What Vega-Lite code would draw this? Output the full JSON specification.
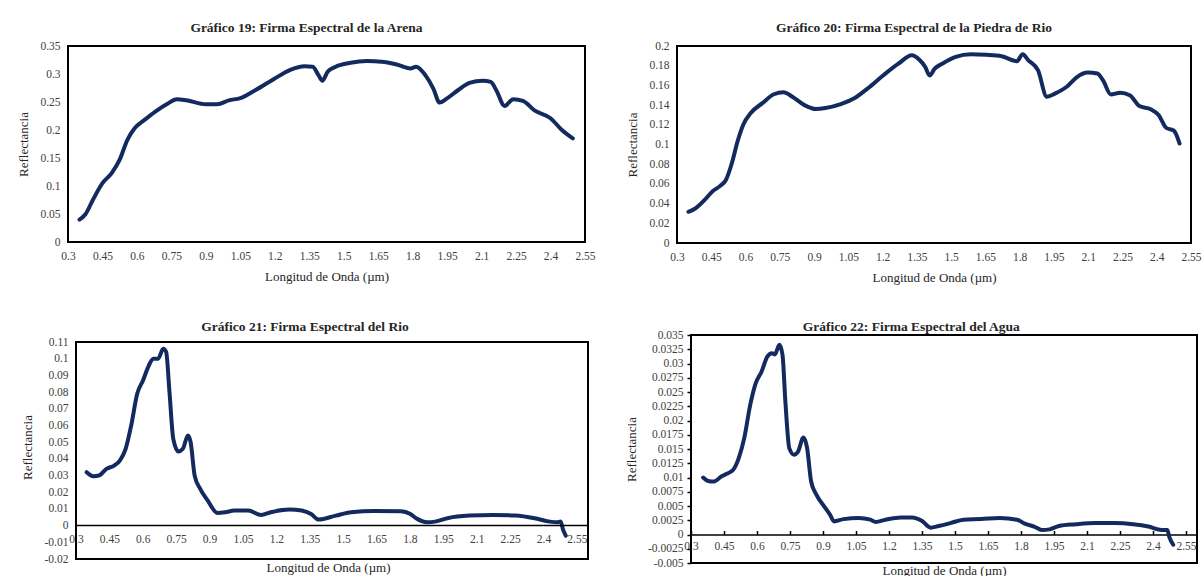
{
  "$schema": "https://vega.github.io/schema/vega-lite/v6.json",
  "background": "white",
  "padding": {"left": 16, "top": 19, "right": 0, "bottom": 0},
  "config": {
    "view": {"stroke": "#000000", "strokeWidth": 2},
    "title": {"font": "Liberation Serif", "fontSize": 13.5, "fontWeight": "bold", "color": "#262626", "offset": 6, "anchor": "middle", "frame": "bounds"},
    "axis": {
      "labelFont": "Liberation Serif", "labelFontSize": 11.5, "labelColor": "#404040",
      "titleFont": "Liberation Serif", "titleFontSize": 13, "titleFontWeight": "normal", "titleColor": "#262626",
      "grid": false, "ticks": false, "domain": false, "labelPadding": 8, "titlePadding": 9,
      "labelFlush": false, "labelOverlap": false,
      "labelExpr": "replace(format(datum.value, '~g'), '\u2212', '-')"
    },
    "line": {"interpolate": "monotone", "strokeWidth": 4, "color": "#132a5e", "strokeCap": "round", "strokeJoin": "round"}
  },
  "datasets": {
    "arena": [
      {"w": 0.35, "r": 0.04}, {"w": 0.375, "r": 0.049}, {"w": 0.408, "r": 0.075}, {"w": 0.45, "r": 0.105},
      {"w": 0.49, "r": 0.123}, {"w": 0.525, "r": 0.147}, {"w": 0.558, "r": 0.182}, {"w": 0.59, "r": 0.203},
      {"w": 0.633, "r": 0.218}, {"w": 0.68, "r": 0.233}, {"w": 0.733, "r": 0.247}, {"w": 0.774, "r": 0.255},
      {"w": 0.816, "r": 0.253}, {"w": 0.9, "r": 0.246}, {"w": 0.95, "r": 0.246}, {"w": 1.0, "r": 0.253},
      {"w": 1.05, "r": 0.257}, {"w": 1.115, "r": 0.271}, {"w": 1.2, "r": 0.292}, {"w": 1.265, "r": 0.307},
      {"w": 1.33, "r": 0.314}, {"w": 1.365, "r": 0.313}, {"w": 1.39, "r": 0.298}, {"w": 1.407, "r": 0.288},
      {"w": 1.43, "r": 0.304}, {"w": 1.465, "r": 0.313}, {"w": 1.53, "r": 0.32}, {"w": 1.6, "r": 0.323},
      {"w": 1.665, "r": 0.322}, {"w": 1.73, "r": 0.317}, {"w": 1.79, "r": 0.31}, {"w": 1.815, "r": 0.313},
      {"w": 1.855, "r": 0.298}, {"w": 1.89, "r": 0.274}, {"w": 1.917, "r": 0.249}, {"w": 1.948, "r": 0.256},
      {"w": 1.997, "r": 0.271}, {"w": 2.047, "r": 0.284}, {"w": 2.105, "r": 0.288}, {"w": 2.14, "r": 0.286},
      {"w": 2.164, "r": 0.271}, {"w": 2.2, "r": 0.243}, {"w": 2.238, "r": 0.255}, {"w": 2.28, "r": 0.252},
      {"w": 2.33, "r": 0.235}, {"w": 2.4, "r": 0.221}, {"w": 2.447, "r": 0.201}, {"w": 2.497, "r": 0.185}
    ],
    "piedra": [
      {"w": 0.35, "r": 0.0317}, {"w": 0.38, "r": 0.035}, {"w": 0.422, "r": 0.044}, {"w": 0.456, "r": 0.0525},
      {"w": 0.489, "r": 0.058}, {"w": 0.514, "r": 0.064}, {"w": 0.54, "r": 0.081}, {"w": 0.565, "r": 0.103},
      {"w": 0.59, "r": 0.12}, {"w": 0.623, "r": 0.132}, {"w": 0.674, "r": 0.142}, {"w": 0.724, "r": 0.151},
      {"w": 0.766, "r": 0.153}, {"w": 0.808, "r": 0.148}, {"w": 0.858, "r": 0.14}, {"w": 0.908, "r": 0.136},
      {"w": 0.95, "r": 0.137}, {"w": 1.017, "r": 0.141}, {"w": 1.076, "r": 0.147}, {"w": 1.135, "r": 0.157},
      {"w": 1.202, "r": 0.17}, {"w": 1.269, "r": 0.182}, {"w": 1.328, "r": 0.1906}, {"w": 1.361, "r": 0.186},
      {"w": 1.386, "r": 0.179}, {"w": 1.406, "r": 0.17}, {"w": 1.428, "r": 0.177}, {"w": 1.461, "r": 0.182},
      {"w": 1.52, "r": 0.189}, {"w": 1.587, "r": 0.1916}, {"w": 1.654, "r": 0.191}, {"w": 1.721, "r": 0.1896},
      {"w": 1.788, "r": 0.1845}, {"w": 1.813, "r": 0.1916}, {"w": 1.838, "r": 0.1855}, {"w": 1.88, "r": 0.1754},
      {"w": 1.919, "r": 0.1485}, {"w": 1.956, "r": 0.1519}, {"w": 2.006, "r": 0.1586}, {"w": 2.048, "r": 0.168},
      {"w": 2.098, "r": 0.173}, {"w": 2.14, "r": 0.172}, {"w": 2.165, "r": 0.165}, {"w": 2.199, "r": 0.1508},
      {"w": 2.24, "r": 0.1525}, {"w": 2.282, "r": 0.15}, {"w": 2.324, "r": 0.139}, {"w": 2.374, "r": 0.1357},
      {"w": 2.408, "r": 0.13}, {"w": 2.441, "r": 0.117}, {"w": 2.475, "r": 0.114}, {"w": 2.5, "r": 0.101}
    ],
    "rio": [
      {"w": 0.348, "r": 0.032}, {"w": 0.378, "r": 0.0296}, {"w": 0.403, "r": 0.03}, {"w": 0.437, "r": 0.034},
      {"w": 0.472, "r": 0.036}, {"w": 0.497, "r": 0.039}, {"w": 0.523, "r": 0.046}, {"w": 0.548, "r": 0.06},
      {"w": 0.575, "r": 0.079}, {"w": 0.601, "r": 0.087}, {"w": 0.626, "r": 0.0956}, {"w": 0.647, "r": 0.1},
      {"w": 0.669, "r": 0.1}, {"w": 0.692, "r": 0.106}, {"w": 0.705, "r": 0.104}, {"w": 0.72, "r": 0.08},
      {"w": 0.737, "r": 0.052}, {"w": 0.76, "r": 0.0444}, {"w": 0.78, "r": 0.046}, {"w": 0.803, "r": 0.054},
      {"w": 0.815, "r": 0.05}, {"w": 0.833, "r": 0.03}, {"w": 0.858, "r": 0.022}, {"w": 0.892, "r": 0.015},
      {"w": 0.935, "r": 0.0076}, {"w": 0.97, "r": 0.008}, {"w": 1.012, "r": 0.009}, {"w": 1.073, "r": 0.009},
      {"w": 1.132, "r": 0.0064}, {"w": 1.175, "r": 0.008}, {"w": 1.261, "r": 0.0096}, {"w": 1.313, "r": 0.009},
      {"w": 1.356, "r": 0.007}, {"w": 1.39, "r": 0.0036}, {"w": 1.467, "r": 0.006}, {"w": 1.536, "r": 0.008},
      {"w": 1.639, "r": 0.0088}, {"w": 1.759, "r": 0.0086}, {"w": 1.802, "r": 0.007}, {"w": 1.828, "r": 0.0044},
      {"w": 1.879, "r": 0.002}, {"w": 1.913, "r": 0.0024}, {"w": 1.973, "r": 0.0046}, {"w": 2.068, "r": 0.006},
      {"w": 2.171, "r": 0.0064}, {"w": 2.273, "r": 0.006}, {"w": 2.36, "r": 0.0044}, {"w": 2.428, "r": 0.0024},
      {"w": 2.463, "r": 0.002}, {"w": 2.477, "r": 0.0024}, {"w": 2.488, "r": -0.0024}, {"w": 2.5, "r": -0.006}
    ],
    "agua": [
      {"w": 0.355, "r": 0.01}, {"w": 0.378, "r": 0.0094}, {"w": 0.404, "r": 0.0093}, {"w": 0.439, "r": 0.0102},
      {"w": 0.465, "r": 0.0107}, {"w": 0.491, "r": 0.0113}, {"w": 0.517, "r": 0.0134}, {"w": 0.542, "r": 0.0169},
      {"w": 0.569, "r": 0.0227}, {"w": 0.594, "r": 0.0265}, {"w": 0.621, "r": 0.0286}, {"w": 0.647, "r": 0.0312},
      {"w": 0.668, "r": 0.0318}, {"w": 0.681, "r": 0.0316}, {"w": 0.702, "r": 0.0333}, {"w": 0.716, "r": 0.0315},
      {"w": 0.729, "r": 0.0233}, {"w": 0.747, "r": 0.0151}, {"w": 0.768, "r": 0.014}, {"w": 0.786, "r": 0.0145},
      {"w": 0.811, "r": 0.017}, {"w": 0.828, "r": 0.0151}, {"w": 0.846, "r": 0.0093}, {"w": 0.871, "r": 0.0069},
      {"w": 0.906, "r": 0.0049}, {"w": 0.933, "r": 0.0034}, {"w": 0.95, "r": 0.0023}, {"w": 0.993, "r": 0.0027},
      {"w": 1.063, "r": 0.0029}, {"w": 1.115, "r": 0.0026}, {"w": 1.14, "r": 0.0022}, {"w": 1.184, "r": 0.0026},
      {"w": 1.254, "r": 0.003}, {"w": 1.305, "r": 0.003}, {"w": 1.349, "r": 0.0024}, {"w": 1.389, "r": 0.0012},
      {"w": 1.426, "r": 0.0015}, {"w": 1.479, "r": 0.002}, {"w": 1.539, "r": 0.0026}, {"w": 1.618, "r": 0.0027},
      {"w": 1.703, "r": 0.0029}, {"w": 1.782, "r": 0.0026}, {"w": 1.817, "r": 0.0019}, {"w": 1.86, "r": 0.0014},
      {"w": 1.895, "r": 0.0008}, {"w": 1.929, "r": 0.0009}, {"w": 1.972, "r": 0.0015}, {"w": 2.05, "r": 0.0018},
      {"w": 2.137, "r": 0.002}, {"w": 2.224, "r": 0.002}, {"w": 2.31, "r": 0.0018}, {"w": 2.379, "r": 0.0014},
      {"w": 2.439, "r": 0.0008}, {"w": 2.465, "r": 0.0008}, {"w": 2.474, "r": -0.0004}, {"w": 2.492, "r": -0.0018}
    ]
  },
  "spacing": 32,
  "vconcat": [
    {
      "spacing": 28,
      "hconcat": [
        {
          "width": 517, "height": 196,
          "title": {"text": "Gráfico 19: Firma Espectral de la Arena"},
          "data": {"name": "arena"},
          "mark": {"type": "line"},
          "encoding": {
            "x": {"field": "w", "type": "quantitative", "scale": {"domain": [0.3, 2.55], "nice": false, "zero": false},
                  "axis": {"title": "Longitud de Onda (µm)", "values": [0.3, 0.45, 0.6, 0.75, 0.9, 1.05, 1.2, 1.35, 1.5, 1.65, 1.8, 1.95, 2.1, 2.25, 2.4, 2.55]}},
            "y": {"field": "r", "type": "quantitative", "scale": {"domain": [0, 0.35], "nice": false},
                  "axis": {"title": "Reflectancia", "values": [0, 0.05, 0.1, 0.15, 0.2, 0.25, 0.3, 0.35]}}
          }
        },
        {
          "width": 514, "height": 197,
          "title": {"text": "Gráfico 20: Firma Espectral de la Piedra de Rio"},
          "data": {"name": "piedra"},
          "mark": {"type": "line"},
          "encoding": {
            "x": {"field": "w", "type": "quantitative", "scale": {"domain": [0.3, 2.55], "nice": false, "zero": false},
                  "axis": {"title": "Longitud de Onda (µm)", "values": [0.3, 0.45, 0.6, 0.75, 0.9, 1.05, 1.2, 1.35, 1.5, 1.65, 1.8, 1.95, 2.1, 2.25, 2.4, 2.55]}},
            "y": {"field": "r", "type": "quantitative", "scale": {"domain": [0, 0.2], "nice": false},
                  "axis": {"title": "Reflectancia", "values": [0, 0.02, 0.04, 0.06, 0.08, 0.1, 0.12, 0.14, 0.16, 0.18, 0.2]}}
          }
        }
      ]
    },
    {
      "spacing": 35,
      "hconcat": [
        {
          "width": 520, "height": 224,
          "view": {"stroke": null},
          "title": {"text": "Gráfico 21: Firma Espectral del Rio", "offset": 2},
          "layer": [
            {
              "data": {"name": "rio"},
              "mark": {"type": "line"},
              "encoding": {
                "x": {"field": "w", "type": "quantitative", "scale": {"domain": [0.2641, 2.6], "nice": false, "zero": false},
                      "axis": {"title": "Longitud de Onda (µm)", "offset": -33.4, "titlePadding": 16,
                               "values": [0.3, 0.45, 0.6, 0.75, 0.9, 1.05, 1.2, 1.35, 1.5, 1.65, 1.8, 1.95, 2.1, 2.25, 2.4, 2.55]}},
                "y": {"field": "r", "type": "quantitative", "scale": {"domain": [-0.02, 0.1142], "nice": false},
                      "axis": {"title": "Reflectancia", "offset": -8, "titlePadding": 10, "values": [-0.02, -0.01, 0, 0.01, 0.02, 0.03, 0.04, 0.05, 0.06, 0.07, 0.08, 0.09, 0.1, 0.11]}}
              }
            },
            {
              "data": {"values": [{}]},
              "mark": {"type": "rect", "filled": false, "stroke": "#000000", "strokeWidth": 2},
              "encoding": {
                "x": {"datum": 0.3, "type": "quantitative",
                      "axis": {"title": "Longitud de Onda (µm)", "offset": -33.4, "titlePadding": 16,
                               "values": [0.3, 0.45, 0.6, 0.75, 0.9, 1.05, 1.2, 1.35, 1.5, 1.65, 1.8, 1.95, 2.1, 2.25, 2.4, 2.55]}},
                "x2": {"datum": 2.6},
                "y": {"datum": -0.02, "type": "quantitative",
                      "axis": {"title": "Reflectancia", "offset": -8, "titlePadding": 10, "values": [-0.02, -0.01, 0, 0.01, 0.02, 0.03, 0.04, 0.05, 0.06, 0.07, 0.08, 0.09, 0.1, 0.11]}},
                "y2": {"datum": 0.11}
              }
            },
            {
              "data": {"values": [{}]},
              "mark": {"type": "rule", "color": "#000000", "strokeWidth": 1.5},
              "encoding": {
                "x": {"datum": 0.3, "type": "quantitative",
                      "axis": {"title": "Longitud de Onda (µm)", "offset": -33.4, "titlePadding": 16,
                               "values": [0.3, 0.45, 0.6, 0.75, 0.9, 1.05, 1.2, 1.35, 1.5, 1.65, 1.8, 1.95, 2.1, 2.25, 2.4, 2.55]}},
                "x2": {"datum": 2.6},
                "y": {"datum": 0, "type": "quantitative",
                      "axis": {"title": "Reflectancia", "offset": -8, "titlePadding": 10, "values": [-0.02, -0.01, 0, 0.01, 0.02, 0.03, 0.04, 0.05, 0.06, 0.07, 0.08, 0.09, 0.1, 0.11]}}
              }
            }
          ]
        },
        {
          "width": 506, "height": 228,
          "title": {"text": "Gráfico 22: Firma Espectral del Agua", "offset": -4},
          "data": {"name": "agua"},
          "mark": {"type": "line"},
          "encoding": {
            "x": {"field": "w", "type": "quantitative", "scale": {"domain": [0.3, 2.6], "nice": false, "zero": false},
                  "axis": {"title": "Longitud de Onda (µm)", "offset": -28.5, "domain": true, "domainColor": "#000000", "domainWidth": 1.5, "titlePadding": 12,
                           "ticks": true, "tickColor": "#000000", "tickSize": -4, "tickWidth": 1.5, "labelPadding": 10,
                           "values": [0.3, 0.45, 0.6, 0.75, 0.9, 1.05, 1.2, 1.35, 1.5, 1.65, 1.8, 1.95, 2.1, 2.25, 2.4, 2.55]}},
            "y": {"field": "r", "type": "quantitative", "scale": {"domain": [-0.005, 0.035], "nice": false},
                  "axis": {"title": "Reflectancia", "ticks": true, "tickColor": "#000000", "tickSize": 4, "tickWidth": 1.5, "labelPadding": 4,
                           "values": [-0.005, -0.0025, 0, 0.0025, 0.005, 0.0075, 0.01, 0.0125, 0.015, 0.0175, 0.02, 0.0225, 0.025, 0.0275, 0.03, 0.0325, 0.035]}}
          }
        }
      ]
    }
  ]
}
